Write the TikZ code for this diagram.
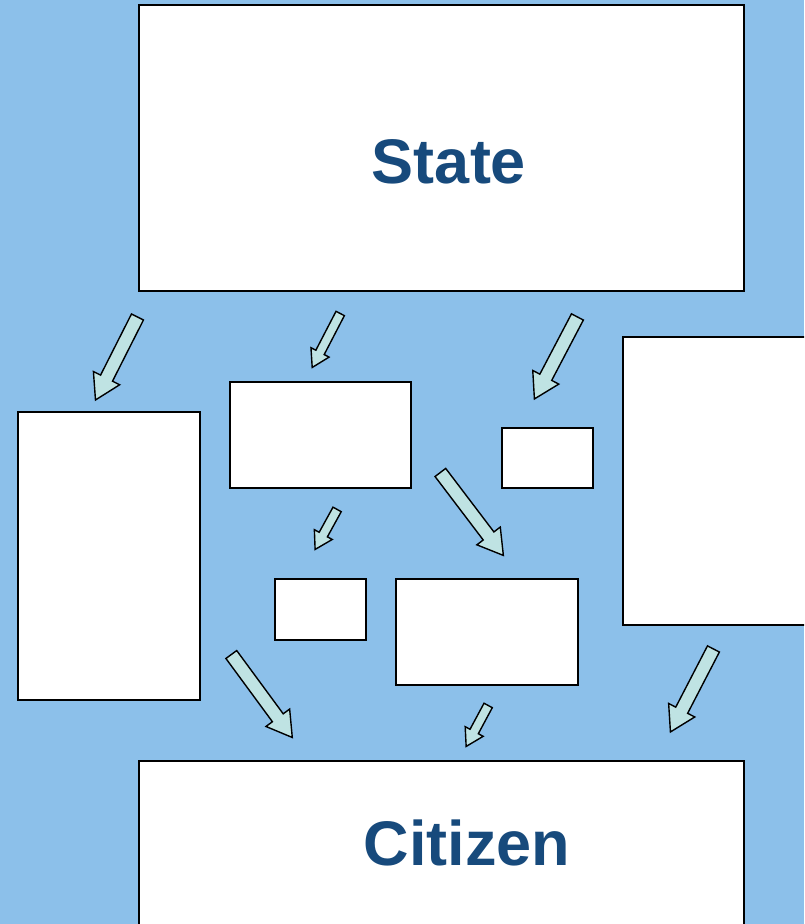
\documentclass[tikz,border=0pt]{standalone}
\usepackage{fontspec}
\setmainfont{Liberation Sans}
\usetikzlibrary{shapes.arrows,calc}
\definecolor{bg}{HTML}{8CC0EA}
\definecolor{arrowfill}{HTML}{BFE3E3}
\definecolor{titleblue}{HTML}{174A7C}
\tikzset{
  box/.style={draw=black, fill=white, line width=1.5pt},
  title/.style={text=titleblue, font=\fontsize{63}{70}\selectfont\bfseries},
  bigarrow/.style={single arrow, draw=black, line width=1.4pt, fill=arrowfill,
    inner xsep=0pt, inner ysep=6pt, single arrow head extend=8pt,
    single arrow head indent=0pt, single arrow tip angle=62},
  smallarrow/.style={single arrow, draw=black, line width=1.4pt, fill=arrowfill,
    inner xsep=0pt, inner ysep=4pt, single arrow head extend=5.5pt,
    single arrow head indent=0pt, single arrow tip angle=62}
}
\newcommand\blkarrow[3]{%
  \path let \p1=($(#3)-(#2)$), \n1={veclen(\x1,\y1)}, \n2={atan2(\y1,\x1)} in
    node[#1, minimum height=\n1, rotate=\n2] at ($(#2)!0.5!(#3)$) {};%
}
\begin{document}
\begin{tikzpicture}[x=1pt,y=-1pt]
\useasboundingbox (0,0) rectangle (804,924);
\fill[bg] (0,0) rectangle (804,924);
\clip (0,0) rectangle (804,924);
% boxes
\draw[box] (139,5) rectangle (744,291);
\node[title] (state) at (449,162) {State};
\draw[box] (139,761) rectangle (744,940);
\node[title] (citizen) at (467,843) {Citizen};
\draw[box] (18,412) rectangle (200,700);
\draw[box] (230,382) rectangle (411,488);
\draw[box] (502,428) rectangle (593,488);
\draw[box] (623,337) rectangle (810,625);
\draw[box] (275,579) rectangle (366,640);
\draw[box] (396,579) rectangle (578,685);
% arrow endpoints
\coordinate (a1s) at (140,312); \coordinate (a1e) at (98,395);
\coordinate (a2s) at (342,310); \coordinate (a2e) at (314,364);
\coordinate (a3s) at (580,312); \coordinate (a3e) at (537,394);
\coordinate (a4s) at (437,468); \coordinate (a4e) at (500,551);
\coordinate (a5s) at (339,506); \coordinate (a5e) at (317,546);
\coordinate (a6s) at (228,650); \coordinate (a6e) at (289,733);
\coordinate (a7s) at (490,702); \coordinate (a7e) at (468,743);
\coordinate (a8s) at (716,644); \coordinate (a8e) at (673,727);
\blkarrow{bigarrow}{a1s}{a1e}
\blkarrow{smallarrow}{a2s}{a2e}
\blkarrow{bigarrow}{a3s}{a3e}
\blkarrow{bigarrow}{a4s}{a4e}
\blkarrow{smallarrow}{a5s}{a5e}
\blkarrow{bigarrow}{a6s}{a6e}
\blkarrow{smallarrow}{a7s}{a7e}
\blkarrow{bigarrow}{a8s}{a8e}
\end{tikzpicture}
\end{document}
